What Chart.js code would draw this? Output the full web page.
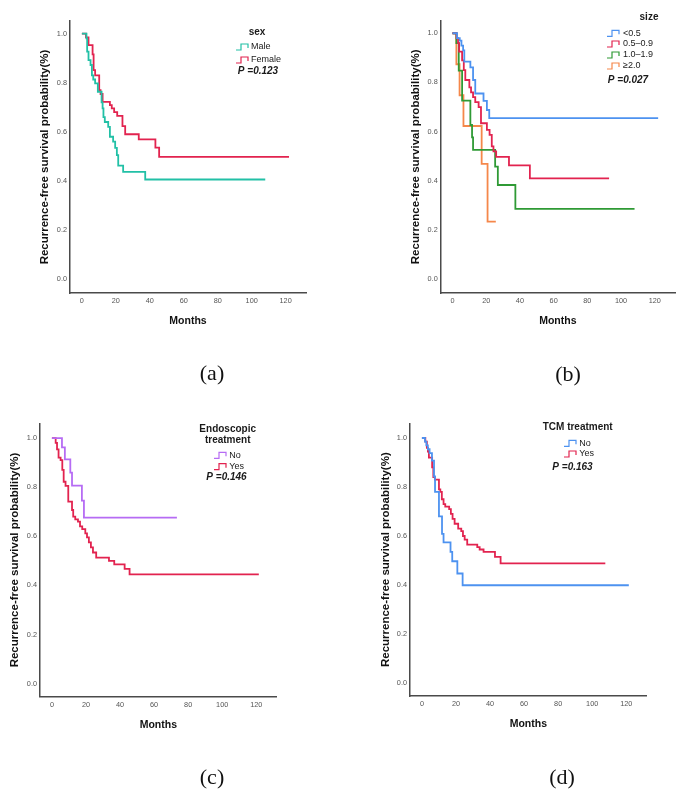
<!DOCTYPE html>
<html>
<head>
<meta charset="utf-8">
<script src="https://cdn.jsdelivr.net/npm/chart.js@4.4.1/dist/chart.umd.min.js"></script>
<style>
  body { margin: 0; background: #fff; }
  #wrap { position: relative; width: 685px; height: 802px; overflow: hidden; }
  canvas { position: absolute; }
  .lab { position: absolute; font-family: 'Liberation Serif', serif; font-size: 22px; color: #111; transform: translate(-50%, -50%); }
</style>
</head>
<body>
<div id="wrap">
  <canvas id="chartA" width="340" height="400" style="left:0;top:0"></canvas>
  <canvas id="chartB" width="345" height="400" style="left:340px;top:0"></canvas>
  <canvas id="chartC" width="340" height="402" style="left:0;top:400px"></canvas>
  <canvas id="chartD" width="345" height="402" style="left:340px;top:400px"></canvas>
  <div class="lab" style="left:212px;top:373px">(a)</div>
  <div class="lab" style="left:568px;top:374px">(b)</div>
  <div class="lab" style="left:212px;top:777px">(c)</div>
  <div class="lab" style="left:562px;top:777px">(d)</div>
</div>
<script>
// shared ticks
const monthTicks = [0, 20, 40, 60, 80, 100, 120];
const survTicks = [0, 0.2, 0.4, 0.6, 0.8, 1.0];

// (a) sex
const maleMonths = [0, 2.7, 3.1, 3.9, 5.1, 5.9, 6.7, 7.8, 9.4, 11.6, 12.2, 12.7, 13.5, 15.5, 16.5, 18.4, 19.6, 20.6, 21.4, 24.3, 37.3, 108];
const maleSurv = [1, 0.98, 0.926, 0.892, 0.872, 0.83, 0.813, 0.797, 0.763, 0.72, 0.695, 0.66, 0.64, 0.62, 0.58, 0.56, 0.535, 0.505, 0.462, 0.437, 0.406, 0.406];
const femaleMonths = [0, 2.4, 3.9, 6.3, 6.9, 7.8, 10.2, 11.0, 12.2, 16.5, 17.6, 19.0, 20.8, 23.9, 25.5, 33.5, 43.3, 45.5, 122];
const femaleSurv = [1, 0.984, 0.953, 0.915, 0.851, 0.83, 0.77, 0.754, 0.722, 0.709, 0.695, 0.68, 0.665, 0.623, 0.59, 0.569, 0.536, 0.498, 0.498];

// (b) size
const s1Months = [0, 2.7, 4.3, 5.3, 6.3, 7.0, 10.6, 12.2, 13.5, 18.4, 20.4, 21.8, 122];
const s1Surv = [1, 0.98, 0.97, 0.95, 0.93, 0.885, 0.861, 0.81, 0.755, 0.725, 0.688, 0.655, 0.655];
const s2Months = [0, 2.4, 3.3, 3.9, 5.7, 6.7, 7.6, 10.0, 11.0, 12.2, 13.5, 15.5, 16.9, 20.4, 22.0, 23.3, 24.3, 25.9, 33.5, 45.9, 92.9];
const s2Surv = [1, 0.98, 0.96, 0.925, 0.89, 0.85, 0.81, 0.78, 0.76, 0.74, 0.72, 0.70, 0.634, 0.607, 0.587, 0.54, 0.52, 0.497, 0.463, 0.41, 0.41];
const s3Months = [0, 2.3, 3.7, 5.7, 10.6, 11.6, 12.2, 25.3, 26.9, 37.3, 108];
const s3Surv = [1, 0.96, 0.848, 0.726, 0.627, 0.577, 0.526, 0.458, 0.383, 0.286, 0.286];
const s4Months = [0, 2.3, 4.2, 6.5, 17.3, 20.8, 25.7];
const s4Surv = [1, 0.874, 0.748, 0.623, 0.469, 0.234, 0.234];

// (c) endoscopic treatment
const endoNoMonths = [0, 5.9, 7.6, 10.8, 11.8, 17.6, 18.8, 73.4];
const endoNoSurv = [1, 0.962, 0.913, 0.859, 0.806, 0.745, 0.676, 0.676];
const endoYesMonths = [0, 2.2, 3.0, 3.9, 5.1, 6.1, 6.9, 8.0, 9.6, 11.8, 12.5, 13.7, 15.3, 16.5, 17.8, 19.6, 20.6, 21.7, 22.9, 24.1, 26.0, 33.5, 36.6, 42.7, 45.6, 121.5];
const endoYesSurv = [1, 0.98, 0.954, 0.92, 0.91, 0.87, 0.822, 0.805, 0.741, 0.707, 0.68, 0.669, 0.66, 0.64, 0.629, 0.612, 0.596, 0.575, 0.555, 0.534, 0.513, 0.50, 0.486, 0.467, 0.445, 0.445];

// (d) TCM treatment
const tcmNoMonths = [0, 1.8, 2.6, 3.5, 4.5, 5.9, 7.1, 7.7, 10.0, 11.8, 12.7, 16.8, 17.8, 20.8, 23.9, 121.5];
const tcmNoSurv = [1, 0.985, 0.97, 0.954, 0.938, 0.908, 0.843, 0.78, 0.68, 0.609, 0.574, 0.535, 0.497, 0.447, 0.399, 0.399];
const tcmYesMonths = [0, 2.0, 2.9, 3.5, 4.1, 6.0, 6.7, 7.6, 10.0, 10.8, 11.7, 12.7, 13.7, 16.0, 17.0, 18.0, 19.2, 21.3, 23.1, 24.1, 25.1, 26.6, 32.5, 33.9, 36.2, 42.9, 46.2, 107.7];
const tcmYesSurv = [1, 0.985, 0.96, 0.945, 0.92, 0.88, 0.84, 0.83, 0.79, 0.78, 0.75, 0.73, 0.72, 0.71, 0.69, 0.67, 0.65, 0.63, 0.62, 0.60, 0.585, 0.565, 0.555, 0.545, 0.535, 0.515, 0.488, 0.488];

const SANS = '"Liberation Sans", Arial, sans-serif';

function km(label, months, surv, color) {
  return {
    label: label,
    data: months.map((m, i) => ({ x: m, y: surv[i] })),
    borderColor: color,
    borderWidth: 1.8,
    pointRadius: 0,
    stepped: true,
    fill: false
  };
}

// legend drawn inside the plot, SPSS style
function legendPlugin(lg) {
  return {
    id: 'kmLegend',
    afterDraw(chart) {
      const ctx = chart.ctx;
      ctx.save();
      ctx.fillStyle = '#1a1a1a';
      ctx.textBaseline = 'middle';
      ctx.textAlign = 'center';
      ctx.font = 'bold 10px ' + SANS;
      lg.title.forEach((t, i) => ctx.fillText(t, lg.titleX, lg.titleY[i]));
      chart.data.datasets.forEach((ds, i) => {
        const y = lg.rowY[i];
        const x0 = lg.iconX;
        ctx.strokeStyle = ds.borderColor;
        ctx.lineWidth = 1.2;
        ctx.beginPath();
        ctx.moveTo(x0, y + 3);
        ctx.lineTo(x0 + 5, y + 3);
        ctx.lineTo(x0 + 5, y - 3);
        ctx.lineTo(x0 + 12, y - 3);
        ctx.lineTo(x0 + 12, y + 1);
        ctx.stroke();
        ctx.textAlign = 'left';
        ctx.font = '9px ' + SANS;
        ctx.fillText(ds.label, lg.textX, y);
      });
      ctx.textAlign = 'center';
      ctx.font = 'italic bold 10px ' + SANS;
      ctx.fillText(lg.pText, lg.pX, lg.pY);
      ctx.restore();
    }
  };
}

function makeChart(id, datasets, lg, box) {
  new Chart(document.getElementById(id), {
    type: 'line',
    data: { datasets: datasets },
    plugins: [legendPlugin(lg)],
    options: {
      responsive: false,
      animation: false,
      layout: { padding: box.padding },
      plugins: { legend: { display: false }, tooltip: { enabled: false } },
      scales: {
        x: {
          type: 'linear',
          min: -7, max: 132,
          afterBuildTicks: s => { s.ticks = monthTicks.map(v => ({ value: v })); },
          afterFit: s => { s.height = 42; },
          grid: { display: false, drawTicks: false },
          border: { display: true, color: '#4a4a4a', width: 1.5 },
          ticks: { color: '#555', font: { family: SANS, size: 7.3 }, padding: 4, maxRotation: 0 },
          title: { display: true, text: 'Months', color: '#111', font: { family: SANS, size: 10.5, weight: 'bold' }, padding: { top: 0, bottom: 7.2 } }
        },
        y: {
          min: box.yMin, max: box.yMax,
          afterBuildTicks: s => { s.ticks = survTicks.map(v => ({ value: v })); },
          afterFit: s => { s.width = box.yWidth; },
          grid: { display: false, drawTicks: false },
          border: { display: true, color: '#4a4a4a', width: 1.5 },
          ticks: { color: '#555', font: { family: SANS, size: 7.3 }, padding: 3, callback: v => v.toFixed(1) },
          title: { display: true, text: 'Recurrence-free survival probability(%)', color: '#111', font: { family: SANS, size: 11.5, weight: 'bold' }, padding: { top: 8, bottom: 0 } }
        }
      }
    }
  });
}

// (a)
makeChart('chartA', [
  km('Male', maleMonths, maleSurv, '#22c0a6'),
  km('Female', femaleMonths, femaleSurv, '#e2234f')
], { title: ['sex'], titleX: 257, titleY: [32], iconX: 236, textX: 251, rowY: [47, 60], pText: 'P =0.123', pX: 258, pY: 71 },
{ padding: { left: 30, top: 21, right: 34, bottom: 65 }, yWidth: 40, yMin: -0.056, yMax: 1.051 });

// (b)
makeChart('chartB', [
  km('<0.5', s1Months, s1Surv, '#4d92f0'),
  km('0.5\u20130.9', s2Months, s2Surv, '#e2234f'),
  km('1.0\u20131.9', s3Months, s3Surv, '#2f9a35'),
  km('\u22652.0', s4Months, s4Surv, '#f5874a')
], { title: ['size'], titleX: 309, titleY: [17], iconX: 267, textX: 283, rowY: [33.3, 44, 55, 66], pText: 'P =0.027', pX: 288, pY: 80 },
{ padding: { left: 61, top: 20.7, right: 10, bottom: 65 }, yWidth: 39.7, yMin: -0.056, yMax: 1.051 });

// (c)
makeChart('chartC', [
  km('No', endoNoMonths, endoNoSurv, '#b66cf4'),
  km('Yes', endoYesMonths, endoYesSurv, '#e2234f')
], { title: ['Endoscopic', 'treatment'], titleX: 227.7, titleY: [29, 40], iconX: 214, textX: 229.3, rowY: [55.3, 66.7], pText: 'P =0.146', pX: 226.5, pY: 77.7 },
{ padding: { left: 0, top: 23.3, right: 63.3, bottom: 63.3 }, yWidth: 40, yMin: -0.053, yMax: 1.06 });

// (d)
makeChart('chartD', [
  km('No', tcmNoMonths, tcmNoSurv, '#4d92f0'),
  km('Yes', tcmYesMonths, tcmYesSurv, '#e2234f')
], { title: ['TCM treatment'], titleX: 237.7, titleY: [27.3], iconX: 224, textX: 239.3, rowY: [43.3, 54], pText: 'P =0.163', pX: 232.5, pY: 67.7 },
{ padding: { left: 31, top: 23.3, right: 38.3, bottom: 64 }, yWidth: 39, yMin: -0.053, yMax: 1.06 });
</script>
</body>
</html>
